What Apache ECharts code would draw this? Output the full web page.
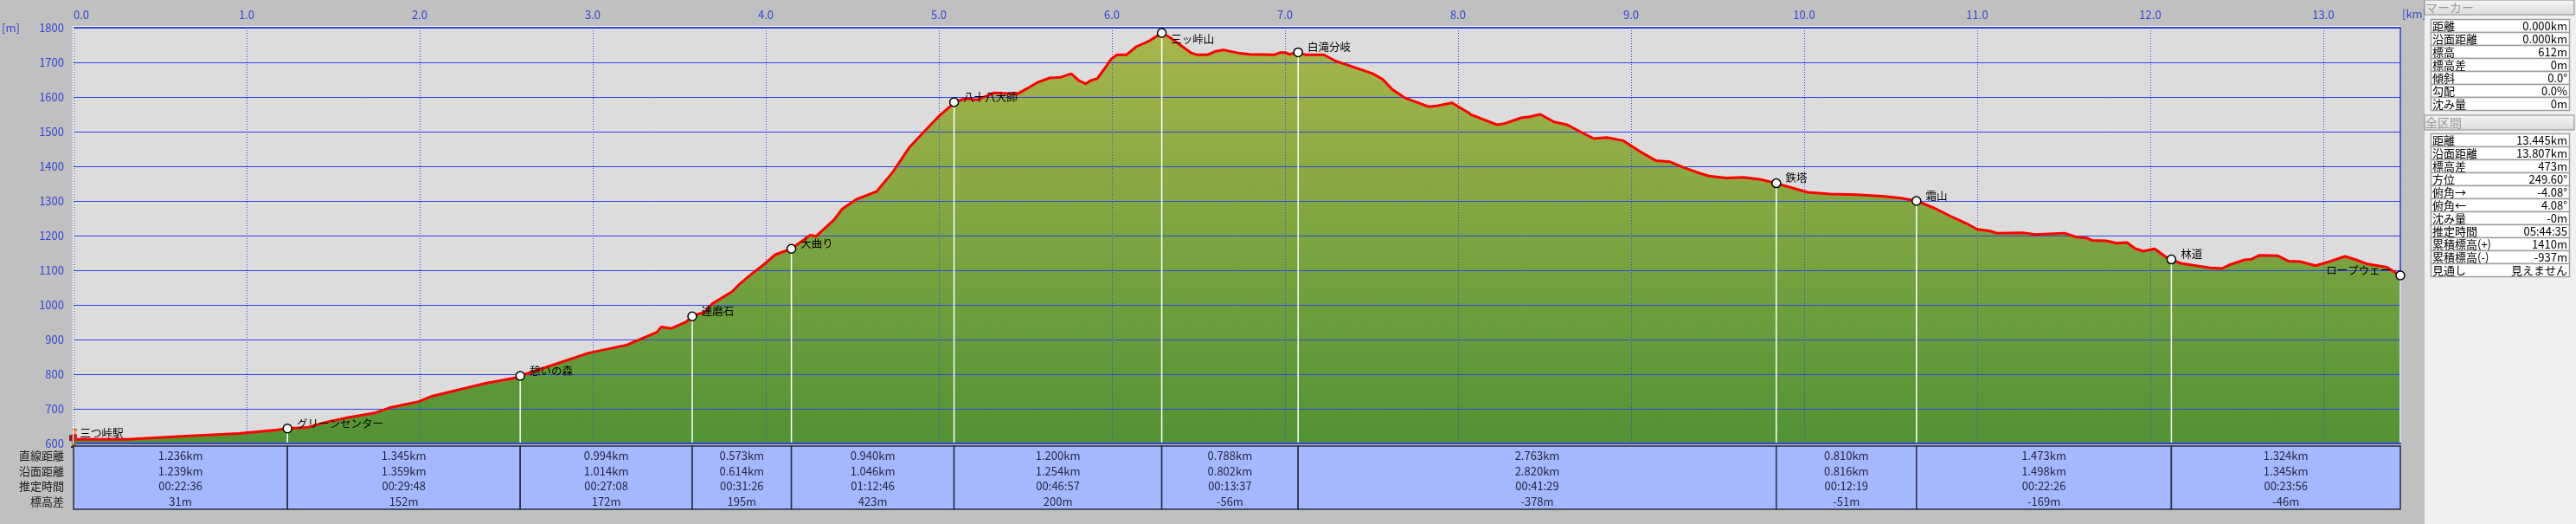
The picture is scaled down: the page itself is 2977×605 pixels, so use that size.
<!DOCTYPE html>
<html><head><meta charset="utf-8">
<script src="https://cdn.jsdelivr.net/npm/echarts@6/dist/echarts.min.js"></script>
<style>html,body{margin:0;padding:0;background:#c0c0c0;overflow:hidden}#c{width:2977px;height:605px}</style>
</head><body><div id="c"></div>
<script>
// ---- data ----
const profileDist = [0.000,0.310,0.320,0.650,0.955,1.170,1.236,1.350,1.455,1.575,1.740,1.825,1.995,2.075,2.200,2.300,2.375,2.560,2.581,2.975,3.195,3.370,3.395,3.455,3.540,3.575,3.650,3.690,3.805,3.855,3.925,3.990,4.055,4.148,4.255,4.290,4.395,4.440,4.525,4.640,4.735,4.830,4.915,4.995,5.065,5.088,5.150,5.225,5.320,5.455,5.515,5.570,5.640,5.705,5.765,5.810,5.850,5.875,5.915,5.955,5.995,6.030,6.085,6.140,6.220,6.288,6.335,6.455,6.490,6.555,6.600,6.645,6.740,6.795,6.940,6.970,7.005,7.025,7.076,7.115,7.225,7.295,7.370,7.505,7.565,7.620,7.695,7.830,7.885,7.965,8.060,8.075,8.225,8.265,8.365,8.415,8.475,8.555,8.630,8.725,8.785,8.860,8.955,9.050,9.145,9.225,9.300,9.385,9.450,9.550,9.650,9.750,9.839,9.950,10.020,10.150,10.300,10.450,10.560,10.649,10.750,10.850,10.950,11.000,11.075,11.115,11.265,11.335,11.505,11.575,11.635,11.665,11.745,11.805,11.865,11.915,11.960,12.025,12.090,12.122,12.175,12.345,12.415,12.455,12.545,12.585,12.630,12.735,12.800,12.865,12.955,13.040,13.125,13.190,13.255,13.365,13.445];
const profileElev = [612,612,616,621,629,639,643,646,661,674,688,703,721,737,752,764,773,790,795,861,884,921,936,932,951,967,980,1003,1038,1063,1092,1117,1145,1162,1201,1198,1246,1276,1305,1327,1384,1455,1500,1542,1573,1585,1595,1592,1612,1609,1626,1642,1655,1657,1667,1647,1638,1647,1653,1680,1709,1722,1722,1745,1763,1785,1772,1728,1722,1722,1732,1736,1726,1723,1722,1728,1728,1723,1729,1722,1722,1703,1691,1668,1651,1622,1597,1572,1575,1583,1555,1549,1520,1523,1540,1543,1550,1528,1520,1495,1480,1483,1474,1443,1416,1413,1397,1382,1372,1366,1368,1362,1351,1335,1325,1320,1318,1314,1308,1300,1280,1255,1232,1218,1213,1207,1208,1203,1207,1195,1193,1186,1185,1178,1180,1162,1155,1162,1138,1131,1120,1107,1105,1115,1130,1132,1143,1142,1126,1125,1113,1126,1140,1130,1118,1109,1085];

const wpNames = ['三つ峠駅','グリーンセンター','憩いの森','達磨石','大曲り','八十八大師','三ッ峠山','白滝分岐','鉄塔','霜山','林道','ロープウェー'];
const wpDist  = [0,1.236,2.581,3.575,4.148,5.088,6.288,7.076,9.839,10.649,12.122,13.445];
const wpElev  = [612,643,795,967,1162,1585,1785,1729,1351,1300,1131,1085];

const segStraight = ['1.236km','1.345km','0.994km','0.573km','0.940km','1.200km','0.788km','2.763km','0.810km','1.473km','1.324km'];
const segSurface  = ['1.239km','1.359km','1.014km','0.614km','1.046km','1.254km','0.802km','2.820km','0.816km','1.498km','1.345km'];
const segTime     = ['00:22:36','00:29:48','00:27:08','00:31:26','01:12:46','00:46:57','00:13:37','00:41:29','00:12:19','00:22:26','00:23:56'];
const segDiff     = ['31m','152m','172m','195m','423m','200m','-56m','-378m','-51m','-169m','-46m'];
const rowLabels   = ['直線距離','沿面距離','推定時間','標高差'];

const xTickLabels = ['0.0','1.0','2.0','3.0','4.0','5.0','6.0','7.0','8.0','9.0','10.0','11.0','12.0','13.0'];
const yTickLabels = ['600','700','800','900','1000','1100','1200','1300','1400','1500','1600','1700','1800'];

const markerTitle = 'マーカー';
const markerRowLabels = ['距離','沿面距離','標高','標高差','傾斜','勾配','沈み量'];
const markerRowValues = ['0.000km','0.000km','612m','0m','0.0°','0.0%','0m'];
const totalTitle = '全区間';
const totalRowLabels = ['距離','沿面距離','標高差','方位','俯角→','俯角←','沈み量','推定時間','累積標高(+)','累積標高(-)','見通し'];
const totalRowValues = ['13.445km','13.807km','473m','249.60°','-4.08°','4.08°','-0m','05:44:35','1410m','-937m','見えません'];

// ---- styling ----
const FONT = '"Noto Sans CJK JP","Noto Sans",sans-serif';
const AX = '#3346d4';
const GRIDC = '#2c46e0';
const TABLE_TOP = 515, TABLE_BOT = 588, ROW_Y = [526, 544, 561, 579];
const labelPlace = {'三ッ峠山': {position:'right', offset:[0,7]}, 'ロープウェー': {position:'left', offset:[0,-6]}, '三つ峠駅': {position:'right', offset:[2,-7]}};

const profile = profileDist.map((d,i)=>[d, profileElev[i]]);
const waypoints = wpDist.map((d,i)=>({
  value:[d, wpElev[i]], name: wpNames[i],
  symbolSize: i===0 ? 1 : 10,
  itemStyle: i===0 ? {color:'rgba(0,0,0,0)', borderWidth:0} : undefined,
  label: Object.assign({show:true}, labelPlace[wpNames[i]] || {position:'right', offset:[0,-6]})
}));
const segments = segStraight.map((s,i)=>[wpDist[i], wpDist[i+1], i]);

const chart = echarts.init(document.getElementById('c'), null, {width:2977, height:605});

const graphics = [];
// axis unit labels
graphics.push({type:'text', left:2, top:26, style:{text:'[m]', fill:AX, font:'13px '+FONT}});
graphics.push({type:'text', left:2776, top:10, style:{text:'[km]', fill:AX, font:'13px '+FONT}});
// white frame lines
graphics.push({type:'rect', shape:{x:84, y:30, width:2691, height:1}, style:{fill:'#ffffff'}, z:10});
graphics.push({type:'rect', shape:{x:84, y:30, width:1, height:483}, style:{fill:'#ffffff'}, z:10});
// row labels of segment table
rowLabels.forEach((t,i)=>graphics.push({type:'text', x:74, y:ROW_Y[i], style:{text:t, fill:'#1a1a1a', font:'13px '+FONT, align:'right', verticalAlign:'middle'}, z:10}));
// right panel
graphics.push({type:'rect', shape:{x:2802, y:0, width:175, height:605}, style:{fill:'#f0f0f0'}, z:1});
function header(y, title){
  graphics.push({type:'rect', shape:{x:2802, y:y, width:173, height:17}, style:{fill:new echarts.graphic.LinearGradient(0,0,0,1,[{offset:0,color:'#f4f4f4'},{offset:1,color:'#dcdcdc'}]), stroke:'#8a8a8a', lineWidth:1}, z:2});
  graphics.push({type:'text', x:2803, y:y+9, style:{text:title, fill:'#9a9a9a', font:'14px '+FONT, verticalAlign:'middle'}, z:3});
}
function table(y0, labels, values){
  labels.forEach((t,i)=>{
    const y = y0 + 15*i;
    graphics.push({type:'rect', shape:{x:2809.5, y:y+0.5, width:160, height:15}, style:{fill:'#ffffff', stroke:'#a0a0a0', lineWidth:1.5}, z:2});
    graphics.push({type:'text', x:2811, y:y+8.5, style:{text:t, fill:'#000', font:'13px '+FONT, verticalAlign:'middle'}, z:3});
    graphics.push({type:'text', x:2967, y:y+8.5, style:{text:values[i], fill:'#000', font:'13px '+FONT, align:'right', verticalAlign:'middle'}, z:3});
  });
}
header(0, markerTitle);
table(22, markerRowLabels, markerRowValues);
header(133, totalTitle);
table(154, totalRowLabels, totalRowValues);

const option = {
  animation:false,
  backgroundColor:'#c0c0c0',
  grid:{left:85, top:32, width:2689, height:480, show:true, backgroundColor:'#dcdcdc', borderWidth:0},
  xAxis:[
    {type:'value', position:'top', min:0, max:13.445, interval:1, z:3,
     axisLine:{show:true, onZero:false, lineStyle:{color:AX, width:2}},
     axisTick:{show:false},
     axisLabel:{color:AX, fontFamily:FONT, fontSize:13, margin:8, showMaxLabel:false, alignMinLabel:'left',
       formatter:v=>xTickLabels[Math.round(v)] || ''},
     splitLine:{show:true, lineStyle:{color:GRIDC, width:1, type:[1,2]}}},
    {type:'value', position:'bottom', min:0, max:13.445, z:3,
     axisLine:{show:true, onZero:false, lineStyle:{color:AX, width:2}},
     axisTick:{show:false}, axisLabel:{show:false}, splitLine:{show:false}}
  ],
  yAxis:[
    {type:'value', min:600, max:1800, interval:100, z:3,
     axisLine:{show:false}, axisTick:{show:false},
     axisLabel:{color:AX, fontFamily:FONT, fontSize:13, margin:11,
       formatter:v=>yTickLabels[Math.round((v-600)/100)] || ''},
     splitLine:{show:true, lineStyle:{color:GRIDC, width:1}}},
    {type:'value', position:'right', min:600, max:1800, z:3,
     axisLine:{show:true, onZero:false, lineStyle:{color:AX, width:1.5}},
     axisTick:{show:false}, axisLabel:{show:false}, splitLine:{show:false}}
  ],
  series:[
    {type:'line', data:profile, showSymbol:false, silent:true, z:2,
     lineStyle:{width:0},
     areaStyle:{origin:'start', opacity:1, color:new echarts.graphic.LinearGradient(0,32,0,512,[{offset:0,color:'#a9b64d'},{offset:1,color:'#519334'}], true)}},
    {type:'line', data:profile, showSymbol:false, silent:true, z:4,
     lineStyle:{color:'#ff0000', width:3}},
    {type:'custom', z:5, silent:true, data:waypoints.slice(1).map(w=>w.value),
     renderItem:(params, api)=>{
       const p1 = api.coord([api.value(0), api.value(1)]);
       const p2 = api.coord([api.value(0), 600]);
       return {type:'line', shape:{x1:p1[0], y1:p1[1], x2:p2[0], y2:p2[1]-1}, style:{stroke:'#ffffff', lineWidth:1.5}};
     }},
    {type:'custom', z:6, silent:true, data:[waypoints[0].value],
     renderItem:(params, api)=>{
       const p = api.coord([api.value(0), api.value(1)]);
       const x = p[0], y = p[1];
       return {type:'group', children:[
         {type:'rect', shape:{x:x-5, y:y-5, width:3, height:7}, style:{fill:'#7a1f1f'}},
         {type:'rect', shape:{x:x-2, y:y-6, width:6, height:8}, style:{fill:'#c42a2a'}},
         {type:'circle', shape:{cx:x+1, cy:y-8.5, r:2.5}, style:{fill:'#e8a070'}},
         {type:'rect', shape:{x:x-2, y:y-12, width:6, height:2}, style:{fill:'#d06020'}},
         {type:'rect', shape:{x:x-2, y:y+2, width:5, height:6}, style:{fill:'#8a6a40'}},
         {type:'rect', shape:{x:x-3, y:y+8, width:7, height:2}, style:{fill:'#302010'}}
       ]};
     }},
    {type:'scatter', data:waypoints, z:7, silent:true, symbol:'circle',
     itemStyle:{color:'#ffffff', borderColor:'#000000', borderWidth:1.5, opacity:1},
     label:{show:true, formatter:p=>p.name, color:'#000000', fontFamily:FONT, fontSize:12.5, distance:5}},
    {type:'custom', z:8, silent:true, clip:false, data:segments,
     renderItem:(params, api)=>{
       const x1 = api.coord([api.value(0), 600])[0];
       const x2 = api.coord([api.value(1), 600])[0];
       const i = api.value(2);
       const cx = (x1+x2)/2;
       const vals = [segStraight[i], segSurface[i], segTime[i], segDiff[i]];
       const children = [{type:'rect', shape:{x:x1, y:TABLE_TOP, width:x2-x1, height:TABLE_BOT-TABLE_TOP}, style:{fill:'#a5b8ff', stroke:'#2a2a44', lineWidth:1.5}}];
       vals.forEach((t,k)=>children.push({type:'text', style:{text:t, x:cx, y:ROW_Y[k], fill:'#262640', font:'13px '+FONT, align:'center', verticalAlign:'middle'}}));
       return {type:'group', children};
     }}
  ],
  graphic:graphics
};
chart.setOption(option);
</script>
</body></html>
